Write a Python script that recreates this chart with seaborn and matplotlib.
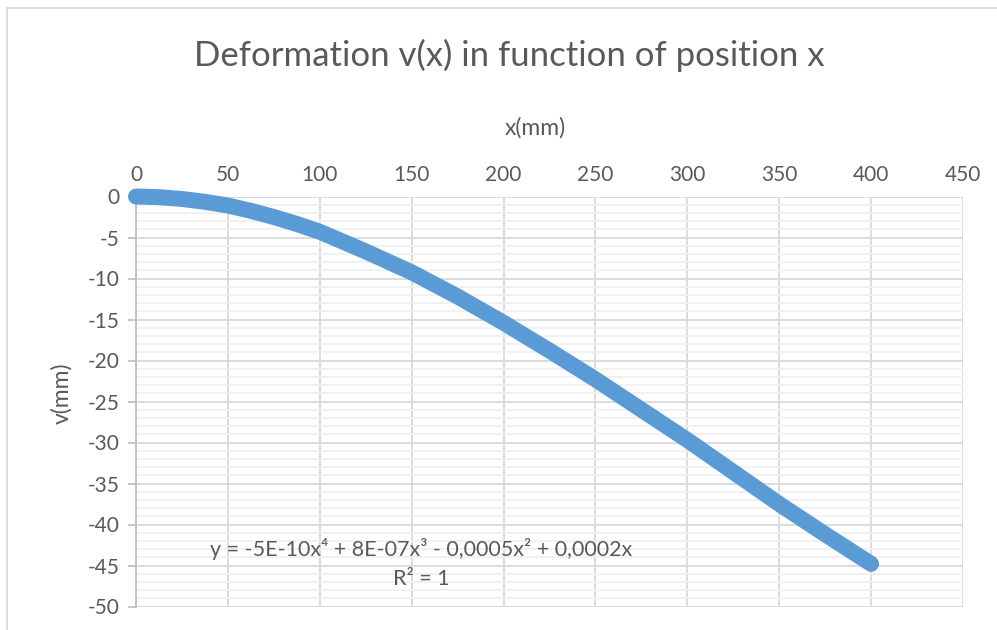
import matplotlib
matplotlib.use("Agg")
import matplotlib.pyplot as plt
from matplotlib.ticker import MultipleLocator
from matplotlib.patches import Rectangle
import seaborn as sns
import pandas as pd

# Data
x_mm = [0, 12.5, 25, 37.5, 50, 62.5, 75, 87.5, 100, 125, 150, 175, 200, 225, 250,
        275, 300, 325, 350, 375, 400]
v_mm = [0.0, -0.08, -0.3, -0.65, -1.1, -1.75, -2.5, -3.35, -4.3, -6.7, -9.25,
        -12.2, -15.4, -18.8, -22.3, -26.0, -29.7, -33.6, -37.5, -41.2, -44.8]
x_ticks = [0, 50, 100, 150, 200, 250, 300, 350, 400, 450]
y_ticks = [0, -5, -10, -15, -20, -25, -30, -35, -40, -45, -50]
title = "Deformation v(x) in function of position x"
x_label = "x(mm)"
y_label = "v(mm)"
equation = "y = -5E-10x\u2074 + 8E-07x\u00b3 - 0,0005x\u00b2 + 0,0002x"
r2 = "R\u00b2 = 1"

df = pd.DataFrame({"x": x_mm, "v": v_mm})

sns.set_theme(style="white")
plt.rcParams["font.family"] = ["Lato", "DejaVu Sans"]
plt.rcParams["axes.unicode_minus"] = False

W, H = 997, 630
fig = plt.figure(figsize=(W / 100, H / 100), dpi=100)
ax = fig.add_axes([136 / W, 1 - 606.5 / H, (963 - 136) / W, (606.5 - 196.5) / H])

text_col = "#595959"
grid_major = "#D9D9D9"
grid_minor = "#F0F0F0"

sns.lineplot(data=df, x="x", y="v", ax=ax, color="#5B9BD5", linewidth=11.5,
             solid_capstyle="round", solid_joinstyle="round", zorder=5,
             clip_on=False)

ax.set_xlim(0, 450)
ax.set_ylim(-50, 0)
ax.set_xticks(x_ticks)
ax.set_yticks(y_ticks)
ax.yaxis.set_minor_locator(MultipleLocator(1))
ax.xaxis.tick_top()
ax.xaxis.set_label_position("top")

ax.grid(which="major", axis="both", color=grid_major, linewidth=1.3, zorder=1)
ax.grid(which="minor", axis="y", color=grid_minor, linewidth=1.3, zorder=0)
ax.set_axisbelow(True)

for s in ["top", "right", "bottom"]:
    ax.spines[s].set_visible(False)
ax.spines["left"].set_color("#BFBFBF")
ax.spines["left"].set_linewidth(1.3)

ax.tick_params(axis="x", which="both", length=0, pad=8, labelsize=15, labelcolor=text_col)
ax.tick_params(axis="y", which="major", length=6, width=1.3, color="#BFBFBF",
               pad=6, labelsize=15, labelcolor=text_col, left=True)
ax.tick_params(axis="y", which="minor", length=0)

ax.set_xlabel(x_label, fontsize=16.5, color=text_col)
ax.xaxis.set_label_coords((535 - 136) / (963 - 136), 1 + (196.5 - 128) / 410)
ax.set_ylabel(y_label, fontsize=16.5, color=text_col)
ax.yaxis.set_label_coords(-(136 - 62) / (963 - 136), 0.52)
ax.xaxis.label.set_va("center")
ax.yaxis.label.set_va("center")

fig.text(509.5 / W, 1 - 55 / H, title, ha="center", va="center",
         fontsize=25, color=text_col)

ax.text(155, -43.0, equation, ha="center", va="center", fontsize=15.5,
        color=text_col, zorder=6)
ax.text(155, -46.6, r2, ha="center", va="center", fontsize=15.5,
        color=text_col, zorder=6)

fig.patches.append(Rectangle((7 / W, -0.1), 1.2, 1 - 8 / H + 0.1,
                             transform=fig.transFigure, fill=False,
                             edgecolor="#D9D9D9", linewidth=1.3))

fig.savefig("out.png", dpi=100)
